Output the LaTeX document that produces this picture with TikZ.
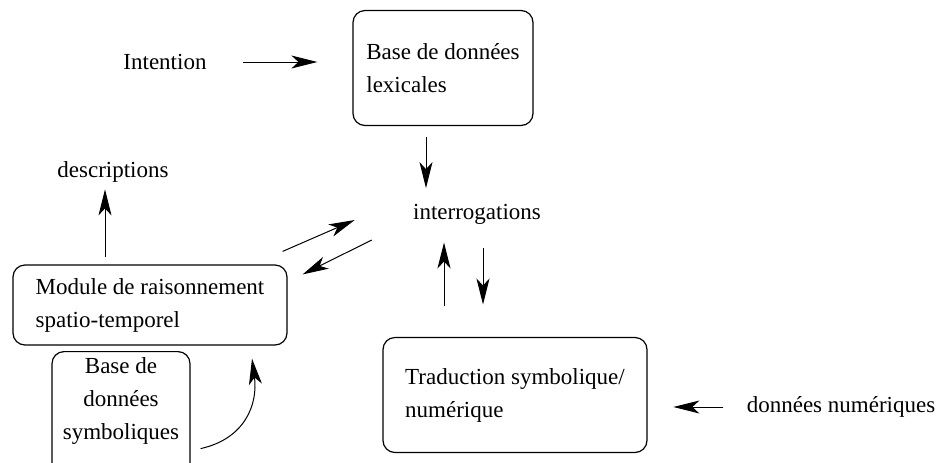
\documentclass[tikz,border=0pt]{standalone}
\usepackage{fontspec}
\setmainfont{Liberation Serif}
\usetikzlibrary{arrows.meta}

\begin{document}
\begin{tikzpicture}[
  x=0.5pt, y=-0.5pt,
  every node/.style={font=\fontsize{11.5}{16.5}\selectfont, inner sep=0pt},
  box/.style={rectangle, rounded corners=6pt, draw=black, line width=0.6pt, align=left},
  term/.style={align=center},
  line/.style={-{Stealth[length=13pt, width=6.5pt, inset=3.5pt]}, line width=0.5pt}
]
\useasboundingbox (0,0) rectangle (943,462);

\node[term] (intention) at (165,62) {Intention};
\node[box, minimum width=90pt, minimum height=57.5pt] (lexical) at (443,68) {Base de données\\lexicales};
\node[term] (interrog) at (477,214) {interrogations};
\node[term] (descr) at (113,172) {descriptions};
\node[box, minimum width=137pt, minimum height=40pt] (module) at (150,305) {Module de raisonnement\\spatio-temporel};
\node[box, minimum width=132pt, minimum height=57.5pt] (trad) at (515,395) {Traduction symbolique/\\numérique};
\node[term] (numeric) at (841,407) {données numériques};
\node[box, minimum width=69pt, minimum height=65pt, anchor=north] (symbase) at (121,351) {};
\node[term] (symtext) at (121,401) {Base de\\données\\symboliques};

\draw[line, shorten <=18pt, shorten >=17.5pt] (intention.east) -- (intention.east -| lexical.west);
\draw[line] (lexical.south) ++(-17,11) -- ++(0,51);
\draw[line] (module.north) ++(-45,-7) -- ++(0,-68);
\draw[line] (module.north east) ++(-5,-13) -- ([shift={(-58,6)}]interrog.west);
\draw[line] ([shift={(-41,26)}]interrog.west) -- ([shift={(15,10)}]module.north east);
\draw[line] (interrog.south) ++(-33,81) -- ++(0,-63);
\draw[line] (interrog.south) ++(6,23) -- ++(0,57);
\draw[line] (numeric.west) ++(-23,0) -- ++(-50,0);
\draw[line] (symbase.east) ++(10,32) .. controls +(45,-10) and +(6,45) .. ([shift={(102,13)}]module.south);
\end{tikzpicture}
\end{document}
